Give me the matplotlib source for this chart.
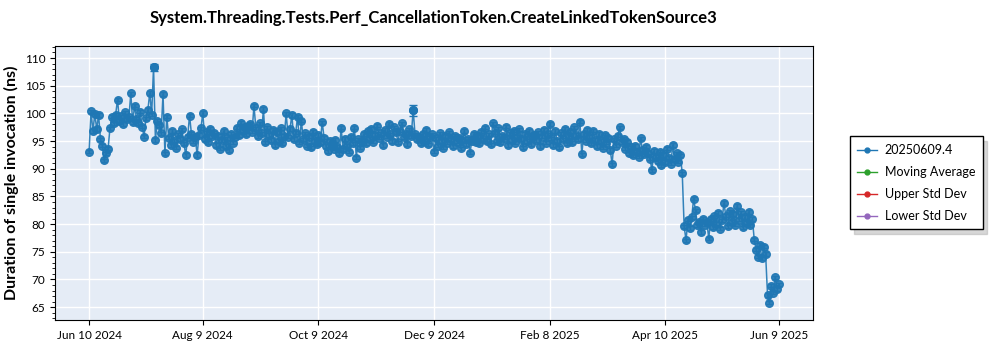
import numpy as np
import pandas as pd
import matplotlib
matplotlib.use('Agg')
import matplotlib.pyplot as plt
from matplotlib.lines import Line2D

plt.rcParams['font.family'] = ['Lato', 'DejaVu Sans']

# daily measurements (ns), one list per period
start_date = '2024-06-10'
jun_2024 = [93.1, 100.4, 96.8, 99.9, 97.2, 99.7, 95.3, 94.2, 91.5, 92.8, 93.6, 97.3, 99.4, 98.2, 99.8,
            102.5, 98.6, 99.5, 98.1, 100.2, 98.9]
jul_2024 = [99.3, 103.6, 98.4, 101.4, 99.0, 98.2, 100.3, 97.6, 95.8, 99.1, 100.6, 103.7, 99.8, 108.3, 95.2,
            98.7, 97.9, 96.4, 103.5, 92.8, 99.4, 95.6, 94.3, 96.8, 95.1, 93.8, 96.2, 95.4, 97.1, 94.6, 92.5]
aug_2024 = [95.8, 99.6, 96.3, 94.9, 95.7, 92.5, 96.1, 97.3, 100.1, 95.4, 96.6, 94.8, 97.2, 95.9, 96.5,
            94.3, 96.0, 93.6, 95.2, 96.8, 94.1, 95.5, 93.4, 96.3, 94.7, 95.8, 97.4, 96.1, 98.3, 96.9, 97.6]
sep_2024 = [96.2, 97.8, 98.1, 96.7, 101.4, 97.3, 95.9, 98.2, 96.4, 100.8, 94.8, 97.5, 96.1, 95.2, 97.0,
            94.3, 96.6, 95.1, 97.3, 94.6, 96.0, 100.0, 95.8, 97.2, 99.7, 95.4, 96.5, 99.4, 94.7, 98.7]
oct_2024 = [95.3, 96.4, 94.2, 95.8, 93.9, 96.7, 95.0, 94.4, 96.1, 94.8, 98.4, 95.6, 94.1, 93.2, 95.0,
            94.3, 93.6, 95.2, 94.0, 92.8, 97.4, 93.5, 95.4, 94.2, 93.1, 95.8, 94.6, 97.4, 92.0, 95.3, 93.8]
nov_2024 = [95.1, 96.3, 94.6, 96.8, 95.4, 97.2, 94.9, 96.1, 97.8, 95.6, 96.4, 94.3, 97.0, 95.8, 98.1,
            96.2, 95.0, 97.5, 96.6, 94.8, 96.9, 98.2, 95.7, 96.3, 94.5, 97.1, 95.9, 100.6, 96.2, 95.4]
dec_2024 = [95.8, 94.6, 96.3, 95.1, 97.0, 94.4, 95.7, 96.2, 93.1, 95.5, 94.2, 96.4, 95.0, 93.8, 95.9,
            94.7, 96.6, 95.3, 94.1, 96.0, 94.9, 95.6, 93.7, 95.2, 96.8, 94.5, 95.4, 92.9, 95.1, 96.3, 94.8]
jan_2025 = [95.9, 94.6, 96.7, 95.3, 97.4, 95.0, 96.2, 94.4, 98.2, 96.5, 95.1, 97.3, 94.8, 96.0, 95.6,
            97.6, 94.3, 96.4, 95.2, 96.9, 94.7, 95.8, 97.1, 95.4, 93.9, 96.3, 95.0, 96.8, 94.5, 95.7, 96.1]
feb_2025 = [95.2, 96.6, 94.1, 95.8, 97.0, 94.7, 96.2, 98.1, 95.5, 94.3, 96.8, 95.0, 93.9, 96.4, 95.3,
            97.2, 94.6, 95.9, 96.7, 94.8, 97.5, 96.1, 95.4, 98.5, 92.6, 96.3, 95.1, 97.0]
mar_2025 = [95.8, 94.6, 96.9, 95.2, 94.1, 96.3, 95.0, 93.8, 96.1, 94.7, 95.6, 93.4, 90.8, 95.3, 94.2,
            96.0, 97.5, 94.8, 95.4, 93.6, 94.9, 92.8, 93.9, 92.4, 94.1, 93.0, 92.2, 95.5, 93.4, 92.6, 94.0]
apr_2025 = [92.9, 91.8, 89.7, 93.2, 92.1, 91.4, 93.0, 90.6, 92.5, 91.2, 93.6, 92.0, 90.9, 94.3, 91.7,
            92.8, 91.3, 92.4, 89.2, 79.6, 77.1, 80.8, 79.3, 81.2, 84.6, 82.5, 79.8, 80.4, 78.6, 81.0]
may_2025 = [79.9, 80.3, 77.4, 80.9, 79.5, 81.4, 80.1, 82.0, 79.2, 80.7, 83.8, 81.5, 79.6, 82.3, 80.4,
            81.8, 79.9, 83.3, 80.8, 82.1, 79.4, 81.3, 80.2, 82.2, 79.8, 80.9, 77.2, 75.4, 74.1, 76.3, 73.8]
jun_2025 = [75.9, 74.6, 67.2, 65.8, 68.9, 67.6, 70.4, 68.3, 69.1]

values = (jun_2024 + jul_2024 + aug_2024 + sep_2024 + oct_2024 + nov_2024 + dec_2024
          + jan_2025 + feb_2025 + mar_2025 + apr_2025 + may_2025 + jun_2025)
dates = pd.date_range(start_date, periods=len(values), freq='D')

# a couple of runs with a visible spread
wide_err_dates = ['2024-07-14', '2024-11-28']
wide_err = [0.6, 1.0]

tick_dates = ['2024-06-10', '2024-08-09', '2024-10-09', '2024-12-09', '2025-02-08', '2025-04-10', '2025-06-09']
legend_labels = ['20250609.4', 'Moving Average', 'Upper Std Dev', 'Lower Std Dev']
legend_colors = ['#1f77b4', '#2ca02c', '#d62728', '#9467bd']

df = pd.DataFrame({'date': dates, 'value': values})

fig = plt.figure(figsize=(10, 3.5), dpi=100)
ax = fig.add_axes([0.055, 0.086, 0.758, 0.783])
ax.set_facecolor('#E5ECF6')

ax.errorbar(df['date'], df['value'], yerr=0.3, color='#1f77b4', marker='o', markersize=5.5,
            linewidth=1.1, alpha=0.9, capsize=2.5, elinewidth=1, zorder=3)
sel = df[df['date'].isin(pd.to_datetime(wide_err_dates))]
ax.errorbar(sel['date'], sel['value'], yerr=wide_err, color='#1f77b4', marker='o', markersize=5.5,
            linestyle='none', capsize=3, elinewidth=1, zorder=4)

ax.set_xlim(pd.Timestamp('2024-05-23'), pd.Timestamp('2025-06-27'))
ax.set_ylim(62.7, 112.2)
ax.set_yticks(np.arange(65, 111, 5))
ax.yaxis.set_minor_locator(plt.MultipleLocator(1))
ticks = pd.to_datetime(tick_dates)
ax.set_xticks(ticks)
ax.set_xticklabels([f"{t.strftime('%b')} {t.day} {t.year}" for t in ticks])
ax.tick_params(labelsize=8.5)
ax.grid(True, color='white', linewidth=1)
ax.set_axisbelow(True)
for s in ax.spines.values():
    s.set_color('black')

ax.set_ylabel('Duration of single invocation (ns)', fontsize=11.5, fontweight='bold')
fig.suptitle('System.Threading.Tests.Perf_CancellationToken.CreateLinkedTokenSource3',
             fontsize=12, fontweight='bold', x=0.433, y=0.97)

handles = [Line2D([0], [0], color=c, marker='.', markersize=7, linewidth=1) for c in legend_colors]
leg = ax.legend(handles, legend_labels, loc='center left', bbox_to_anchor=(1.04, 0.5),
                fancybox=False, shadow={'color': '#b0b0b0', 'ox': 3, 'oy': -3}, edgecolor='black',
                fontsize=9, borderpad=0.6, labelspacing=0.8, handlelength=1.6, handletextpad=0.6)
leg.get_frame().set_linewidth(1)

fig.savefig('out.png', dpi=100)
